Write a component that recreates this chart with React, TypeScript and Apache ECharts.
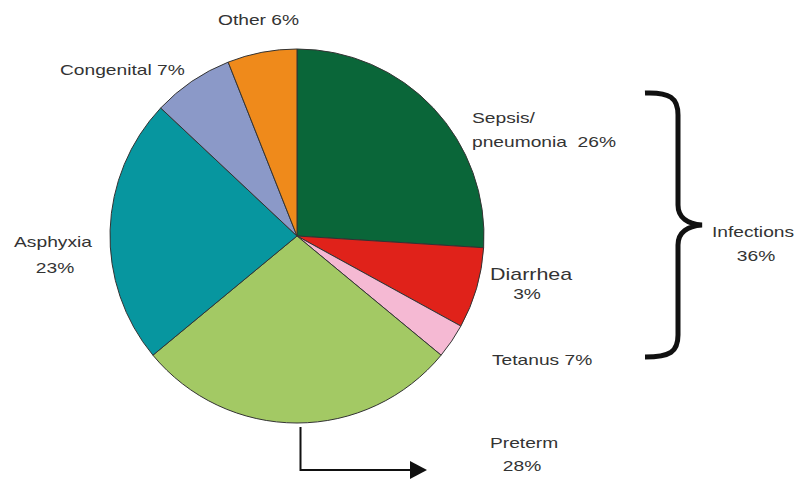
import React, { useEffect, useRef } from "react";
import * as echarts from "echarts";

const causes = ["Sepsis/pneumonia", "Diarrhea", "Tetanus", "Preterm", "Asphyxia", "Congenital", "Other"];
const shares = [26, 7, 3, 28, 23, 7, 6];
const sliceColors = ["#0a6639", "#e0221a", "#f5b9d3", "#a3c964", "#07969f", "#8b99c8", "#ef8a1b"];

const labelLines: { text: string; x: number; y: number; align: string; size?: number; sx?: number }[] = [
  { text: "Other 6%", x: 218, y: 20, align: "left" },
  { text: "Congenital 7%", x: 60, y: 70, align: "left" },
  { text: "Sepsis/", x: 472, y: 118, align: "left" },
  { text: "pneumonia  26%", x: 472, y: 142, align: "left" },
  { text: "Diarrhea", x: 490, y: 275, align: "left", size: 16, sx: 1.34 },
  { text: "3%", x: 527, y: 294, align: "center" },
  { text: "Tetanus 7%", x: 492, y: 360, align: "left" },
  { text: "Infections", x: 753, y: 232, align: "center" },
  { text: "36%", x: 756, y: 256, align: "center" },
  { text: "Asphyxia", x: 53, y: 242, align: "center" },
  { text: "23%", x: 55, y: 268, align: "center" },
  { text: "Preterm", x: 490, y: 443, align: "left" },
  { text: "28%", x: 522, y: 466, align: "center" },
];

const braceD =
  "M645,93 C670,92 678,98 678,115 L678,205 C678,218 688,224 702,225 C688,226 678,232 678,245 L678,335 C678,352 670,357 645,357";

let registered = false;

export default function App() {
  const ref = useRef<HTMLDivElement>(null);
  useEffect(() => {
    if (!ref.current) return;
    if (!registered) {
      echarts.graphic.registerShape("brace", (echarts.graphic as any).extendPath(braceD, {}));
      registered = true;
    }
    const chart = echarts.init(ref.current, null, { renderer: "svg" });
    const graphics: any[] = labelLines.map((l) => ({
      type: "text",
      x: l.x,
      y: l.y,
      scaleX: l.sx ?? 1.28,
      style: {
        text: l.text,
        fill: "#333",
        font: `${l.size ?? 15}px 'Liberation Sans', Arial, sans-serif`,
        textAlign: l.align,
        textVerticalAlign: "middle",
      },
    }));
    graphics.push({
      type: "brace",
      x: 0,
      y: 0,
      style: { fill: "none", stroke: "#111", lineWidth: 5 },
    });
    graphics.push({
      type: "polyline",
      shape: { points: [[300.5, 427], [300.5, 470], [412, 470]] },
      style: { stroke: "#111", lineWidth: 2, fill: "none" },
    });
    graphics.push({
      type: "polygon",
      shape: { points: [[410, 461], [427, 470], [410, 479]] },
      style: { fill: "#111" },
    });
    chart.setOption({
      animation: false,
      backgroundColor: "#fff",
      series: [
        {
          type: "pie",
          center: [297, 236],
          radius: 187,
          startAngle: 90,
          clockwise: true,
          label: { show: false },
          labelLine: { show: false },
          emphasis: { disabled: true },
          itemStyle: { borderColor: "#333", borderWidth: 1 },
          data: causes.map((n, i) => ({ name: n, value: shares[i], itemStyle: { color: sliceColors[i] } })),
        },
      ],
      graphic: graphics,
    });
    return () => chart.dispose();
  }, []);
  return <div ref={ref} style={{ width: 799, height: 481, position: "absolute", left: 0, top: 0 }} />;
}
